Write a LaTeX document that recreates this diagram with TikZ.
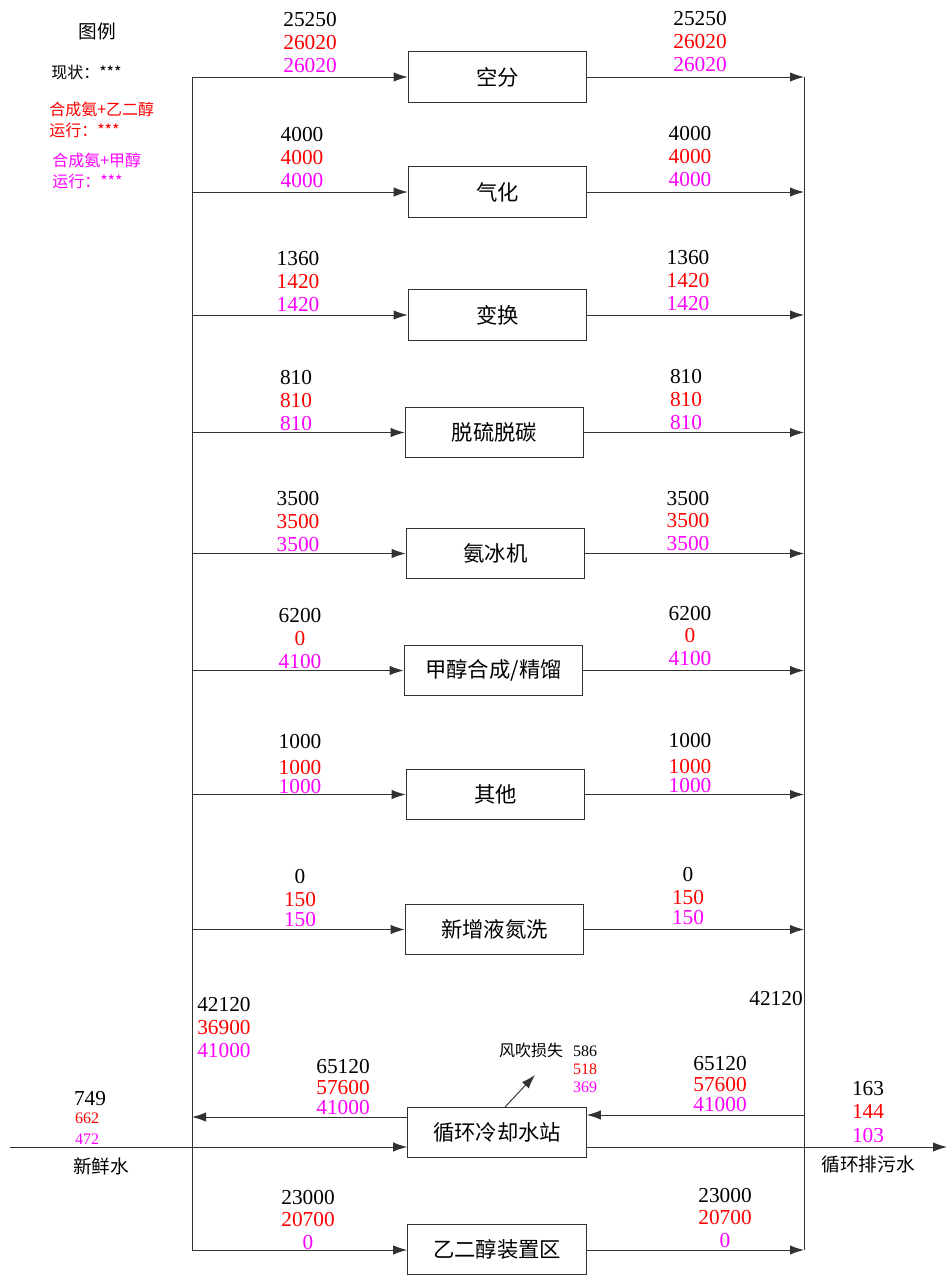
\documentclass[tikz,border=0pt]{standalone}
\usepackage{fontspec}
\setmainfont{Liberation Serif}
\newfontfamily\cjk{Noto Sans CJK SC}
\usetikzlibrary{positioning, arrows.meta}

\definecolor{mag}{RGB}{255,0,255}
\definecolor{rd}{RGB}{255,0,0}
\definecolor{linegray}{RGB}{50,50,50}

\tikzset{
    unit/.style={draw=linegray, line width=0.7pt, minimum width=134pt, minimum height=38pt,
        inner sep=0pt, font=\cjk\fontsize{16}{18}\selectfont},
    flow/.style={-{Latex[length=10.5pt, width=7pt]}, draw=linegray, line width=0.7pt},
    bus/.style={draw=linegray, line width=0.7pt},
    vals/.style={align=center, inner sep=0pt, font=\fontsize{16}{17.25}\selectfont},
    small/.style={inner sep=0pt, font=\fontsize{12}{13.5}\selectfont},
    legend/.style={anchor=west, inner sep=0pt, font=\cjk\fontsize{12}{14}\selectfont},
}
\newcommand{\trio}[3]{\textcolor{black}{#1}\\\textcolor{rd}{#2}\\\textcolor{mag}{#3}}

\begin{document}
\begin{tikzpicture}[x=0.75pt, y=-0.75pt]
    \useasboundingbox (0,0) rectangle (947,1275);

    % Legend
    \node[inner sep=0pt, font=\cjk\fontsize{14}{16}\selectfont] (lgtitle) at (97,31) {图例};
    \node[legend] (lg1) at (51,72) {现状：***};
    \node[legend, rd] (lg2) at (49,109) {合成氨+乙二醇};
    \node[legend, rd] (lg3) at (49,130) {运行：***};
    \node[legend, mag] (lg4) at (52,160) {合成氨+甲醇};
    \node[legend, mag] (lg5) at (52,181) {运行：***};

    % Units
    \node[unit] (kf) at (497.5,77) {空分};
    \node[unit] (qh) at (497.5,192) {气化};
    \node[unit] (bh) at (497.5,315) {变换};
    \node[unit] (tl) at (494.5,432.5) {脱硫脱碳};
    \node[unit] (ab) at (495.5,553.5) {氨冰机};
    \node[unit] (jc) at (493.5,670.5) {甲醇合成/精馏};
    \node[unit] (qt) at (495.5,794.5) {其他};
    \node[unit] (yd) at (494.5,929.5) {新增液氮洗};
    \node[unit] (xh) at (497,1132.5) {循环冷却水站};
    \node[unit] (yc) at (497,1249.5) {乙二醇装置区};

    % Supply and return mains
    \coordinate (Ltop) at (192,77);
    \coordinate (Lbot) at (192,1250);
    \coordinate (Rtop) at (804,77);
    \coordinate (Rbot) at (804,1250);
    \draw[bus] (Ltop) -- (Lbot);
    \draw[bus] (Rtop) -- (Rbot);

    % Branches to and from the units
    \draw[flow] (Ltop) -- (kf.west);
    \draw[flow] (kf.east) -- (Rtop);
    \draw[flow] (qh.west -| Ltop) -- (qh.west);
    \draw[flow] (qh.east) -- (qh.east -| Rtop);
    \draw[flow] (bh.west -| Ltop) -- (bh.west);
    \draw[flow] (bh.east) -- (bh.east -| Rtop);
    \draw[flow] (tl.west -| Ltop) -- (tl.west);
    \draw[flow] (tl.east) -- (tl.east -| Rtop);
    \draw[flow] (ab.west -| Ltop) -- (ab.west);
    \draw[flow] (ab.east) -- (ab.east -| Rtop);
    \draw[flow] (jc.west -| Ltop) -- (jc.west);
    \draw[flow] (jc.east) -- (jc.east -| Rtop);
    \draw[flow] (qt.west -| Ltop) -- (qt.west);
    \draw[flow] (qt.east) -- (qt.east -| Rtop);
    \draw[flow] (yd.west -| Ltop) -- (yd.west);
    \draw[flow] (yd.east) -- (yd.east -| Rtop);
    \draw[flow] (Lbot) -- (yc.west |- Lbot);
    \draw[flow] (yc.east |- Rbot) -- (Rbot);

    % Cooling water station
    \coordinate (Rc) at (804,1115);
    \coordinate (Lc) at (192,1117);
    \coordinate (fw) at (10,1147);
    \coordinate (bd) at (947,1147);
    \coordinate (ws) at (505,1107);
    \coordinate (wl) at (535,1075);
    \draw[flow] (Rc) -- (Rc -| xh.east);
    \draw[flow] (Lc -| xh.west) -- (Lc);
    \draw[flow] (fw) -- (fw -| xh.west);
    \draw[flow] (bd -| xh.east) -- (bd);
    \draw[flow] (ws) -- (wl);

    % Flow values
    \node[vals] (v1l) at (310,43) {\trio{25250}{26020}{26020}};
    \node[vals] (v1r) at (700,42) {\trio{25250}{26020}{26020}};
    \node[vals] (v2l) at (302,158) {\trio{4000}{4000}{4000}};
    \node[vals] (v2r) at (690,157) {\trio{4000}{4000}{4000}};
    \node[vals] (v3l) at (298,282) {\trio{1360}{1420}{1420}};
    \node[vals] (v3r) at (688,281) {\trio{1360}{1420}{1420}};
    \node[vals] (v4l) at (296,401) {\trio{810}{810}{810}};
    \node[vals] (v4r) at (686,400) {\trio{810}{810}{810}};
    \node[vals] (v5l) at (298,522) {\trio{3500}{3500}{3500}};
    \node[vals] (v5r) at (688,521) {\trio{3500}{3500}{3500}};
    \node[vals] (v6l) at (300,638) {\trio{6200}{0}{4100}};
    \node[vals] (v6r) at (690,636) {\trio{6200}{0}{4100}};
    \node[vals] (v7l) at (300,764) {\textcolor{black}{1000}\\[2pt]\textcolor{rd}{1000}\\[-3pt]\textcolor{mag}{1000}};
    \node[vals] (v7r) at (690,763) {\textcolor{black}{1000}\\[2pt]\textcolor{rd}{1000}\\[-3pt]\textcolor{mag}{1000}};
    \node[vals] (v8l) at (300,898) {\textcolor{black}{0}\\\textcolor{rd}{150}\\[-2pt]\textcolor{mag}{150}};
    \node[vals] (v8r) at (688,896) {\textcolor{black}{0}\\\textcolor{rd}{150}\\[-2pt]\textcolor{mag}{150}};
    \node[vals, align=left, anchor=west] (v9l) at (197,1027) {\trio{42120}{36900}{41000}};
    \node[vals, anchor=east] (v9r) at (803,998) {42120};
    \node[vals] (vcl) at (343,1087) {\textcolor{black}{65120}\\[-2pt]\textcolor{rd}{57600}\\[-2pt]\textcolor{mag}{41000}};
    \node[vals] (vcr) at (720,1084) {\textcolor{black}{65120}\\[-2pt]\textcolor{rd}{57600}\\[-2pt]\textcolor{mag}{41000}};
    \node[vals] (v10l) at (308,1220) {\textcolor{black}{23000}\\[-1pt]\textcolor{rd}{20700}\\\textcolor{mag}{0}};
    \node[vals] (v10r) at (725,1218) {\textcolor{black}{23000}\\[-1pt]\textcolor{rd}{20700}\\\textcolor{mag}{0}};

    % Wind and drift loss
    \node[small, font=\cjk\fontsize{12}{13.5}\selectfont] (wltext) at (531,1050) {风吹损失};
    \node[small, align=center] (wlval) at (585,1069) {\trio{586}{518}{369}};

    % Fresh water make-up
    \node[vals] (fw1) at (90,1099) {749};
    \node[small, rd] (fw2) at (87,1118) {662};
    \node[small, mag] (fw3) at (87,1139) {472};
    \node[inner sep=0pt, font=\cjk\fontsize{14}{16}\selectfont] (fwtext) at (101,1166) {新鲜水};

    % Blowdown
    \node[vals] (bdval) at (868,1112) {\textcolor{black}{163}\\\textcolor{rd}{144}\\[1pt]\textcolor{mag}{103}};
    \node[inner sep=0pt, font=\cjk\fontsize{14}{16}\selectfont] (bdtext) at (868,1164) {循环排污水};
\end{tikzpicture}
\end{document}
